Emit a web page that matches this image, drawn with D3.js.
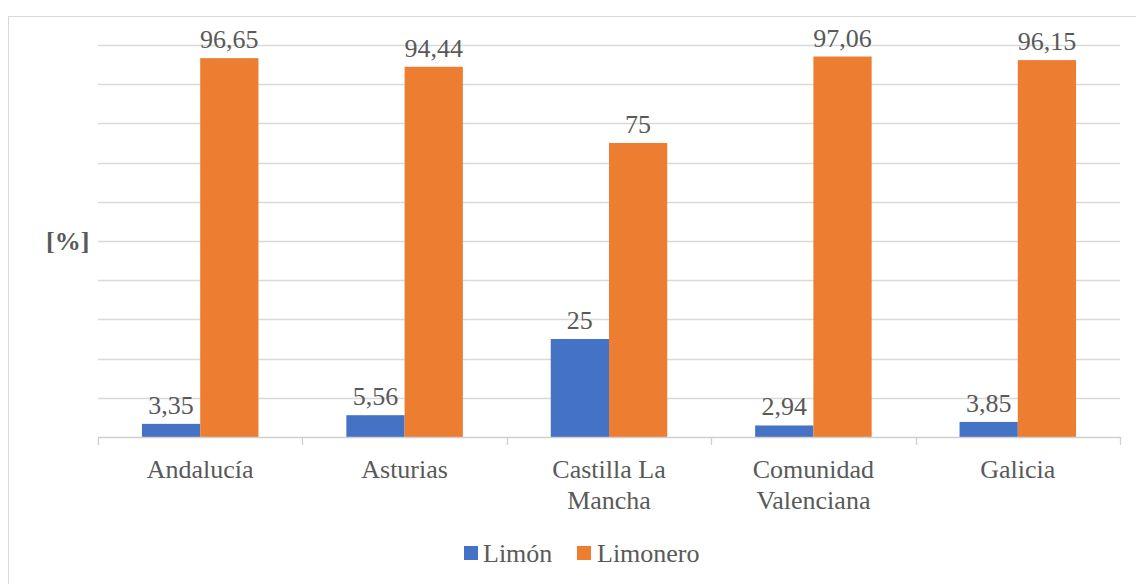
<!DOCTYPE html>
<html>
<head>
<meta charset="utf-8">
<script src="https://cdn.jsdelivr.net/npm/d3@7"></script>
<style>
  html, body { margin: 0; padding: 0; background: #ffffff; }
  svg { display: block; }
</style>
</head>
<body>
<svg id="chart" width="1136" height="584"></svg>
<script>
// Regions and the share of each product type, in percent
const categories = ["Andalucía", "Asturias", "Castilla La Mancha", "Comunidad Valenciana", "Galicia"];
const categoryLines = [["Andalucía"], ["Asturias"], ["Castilla La", "Mancha"], ["Comunidad", "Valenciana"], ["Galicia"]];
const seriesNames = ["Limón", "Limonero"];
const limon = [3.35, 5.56, 25, 2.94, 3.85];
const limonero = [96.65, 94.44, 75, 97.06, 96.15];
const valueLabels = [["3,35", "5,56", "25", "2,94", "3,85"], ["96,65", "94,44", "75", "97,06", "96,15"]];
const yTicks = [0, 10, 20, 30, 40, 50, 60, 70, 80, 90, 100];
const colors = ["#4472C4", "#ED7D31"];

const series = [limon, limonero];
const FONT = "'Liberation Serif'";
const TEXT = "#595959";
const svg = d3.select("#chart");

function styleText(sel, size) {
  return sel.style("font-family", FONT)
    .style("font-size", size + "px")
    .style("fill", TEXT);
}

// Chart frame
svg.append("rect")
  .attr("x", 8.5).attr("y", 16.5)
  .attr("width", 1140).attr("height", 580)
  .attr("fill", "none").attr("stroke", "#d9d9d9").attr("stroke-width", 1);

const plot = { left: 98, right: 1120, top: 45, bottom: 437 };

const x0 = d3.scaleBand()
  .domain(categories)
  .range([plot.left, plot.right])
  .paddingInner(0.43)
  .paddingOuter(0.215);

const x1 = d3.scaleBand()
  .domain(seriesNames)
  .range([0, x0.bandwidth()]);

const y = d3.scaleLinear().domain([0, 100]).range([plot.bottom, plot.top]);

// Horizontal gridlines
svg.append("g")
  .selectAll("line")
  .data(yTicks.filter(t => t > 0))
  .join("line")
  .attr("x1", plot.left).attr("x2", plot.right)
  .attr("y1", d => Math.round(y(d)) + 0.5).attr("y2", d => Math.round(y(d)) + 0.5)
  .attr("stroke", "#d9d9d9").attr("stroke-width", 1.3);

// Bars
const groups = svg.append("g")
  .selectAll("g")
  .data(categories)
  .join("g")
  .attr("transform", d => `translate(${x0(d)},0)`);

groups.selectAll("rect")
  .data((d, i) => seriesNames.map((s, k) => ({ s, k, v: series[k][i] })))
  .join("rect")
  .attr("x", d => x1(d.s))
  .attr("y", d => y(d.v))
  .attr("width", x1.bandwidth())
  .attr("height", d => y(0) - y(d.v))
  .attr("fill", d => colors[d.k]);

// Category axis with boundary ticks
const axis = svg.append("g");
axis.append("line")
  .attr("x1", plot.left).attr("x2", plot.right)
  .attr("y1", plot.bottom + 0.5).attr("y2", plot.bottom + 0.5)
  .attr("stroke", "#d0d0d0").attr("stroke-width", 1.3);
const step = x0.step();
axis.selectAll("line.tick")
  .data(d3.range(categories.length + 1))
  .join("line")
  .attr("class", "tick")
  .attr("x1", i => Math.round(plot.left + i * step) + 0.5)
  .attr("x2", i => Math.round(plot.left + i * step) + 0.5)
  .attr("y1", plot.bottom).attr("y2", plot.bottom + 8)
  .attr("stroke", "#d0d0d0").attr("stroke-width", 1.3);

axis.selectAll("text.cat")
  .data(categories)
  .join("text")
  .attr("class", "cat")
  .attr("text-anchor", "middle")
  .attr("x", d => x0(d) + x0.bandwidth() / 2)
  .attr("y", 478)
  .call(styleText, 26)
  .each(function(d, i) {
    const t = d3.select(this);
    categoryLines[i].forEach((line, j) => {
      t.append("tspan")
        .attr("x", x0(d) + x0.bandwidth() / 2)
        .attr("dy", j === 0 ? 0 : 31)
        .text(line);
    });
  });

// Value labels above each bar
groups.selectAll("text")
  .data((d, i) => seriesNames.map((s, k) => ({ s, k, v: series[k][i], label: valueLabels[k][i] })))
  .join("text")
  .attr("text-anchor", "middle")
  .attr("x", d => x1(d.s) + x1.bandwidth() / 2)
  .attr("y", d => Math.min(y(d.v) - 10, y(0) - 17))
  .call(styleText, 26)
  .text(d => d.label);

// Y axis title
svg.append("text")
  .attr("x", 46).attr("y", 250)
  .call(styleText, 26)
  .style("font-weight", "bold")
  .text("[%]");

// Legend
const legendItems = [{ name: seriesNames[0], sx: 464, tx: 483 }, { name: seriesNames[1], sx: 577, tx: 597 }];
const legend = svg.append("g");
legend.selectAll("rect")
  .data(legendItems)
  .join("rect")
  .attr("x", d => d.sx).attr("y", 546)
  .attr("width", 14).attr("height", 14)
  .attr("fill", (d, i) => colors[i]);
legend.selectAll("text")
  .data(legendItems)
  .join("text")
  .attr("x", d => d.tx).attr("y", 562)
  .call(styleText, 26)
  .text(d => d.name);
</script>
</body>
</html>
